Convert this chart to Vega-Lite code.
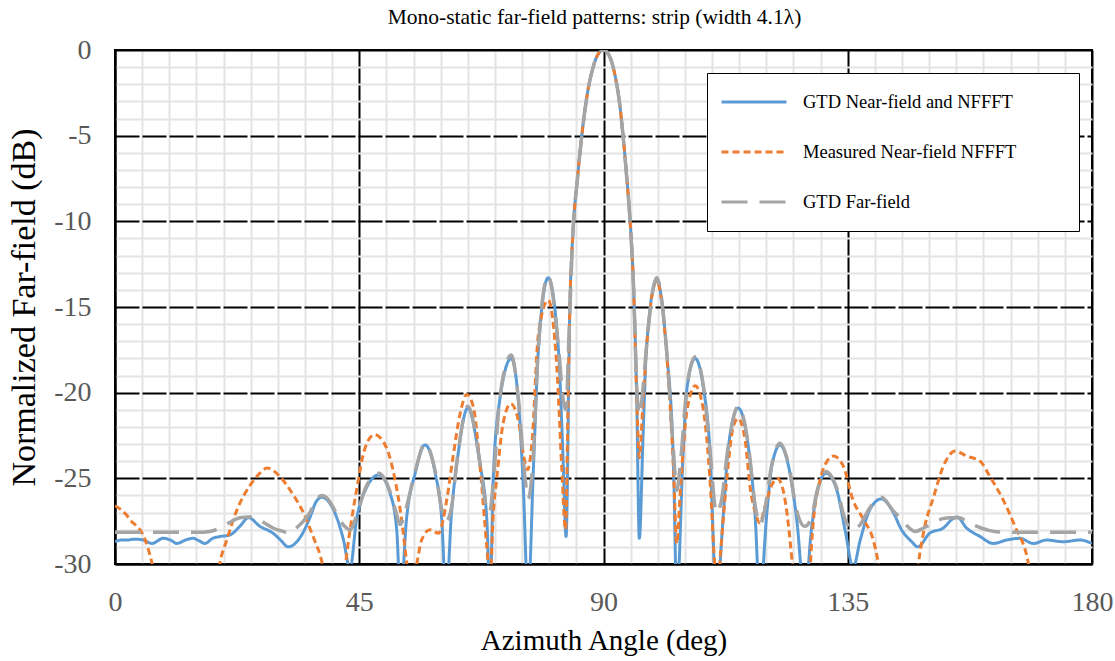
{
"$schema":"https://vega.github.io/schema/vega-lite/v6.json",
"width":977,"height":514,
"autosize":{"type":"none"},
"padding":{"left":115,"top":50,"right":23,"bottom":97},
"background":"white",
"title":{"text":"Mono-static far-field patterns: strip (width 4.1λ)","font":"Liberation Serif","fontSize":21.5,"fontWeight":"normal","color":"black","offset":8,"anchor":"middle","dx":-9},
"config":{"view":{"stroke":"black","strokeWidth":2}},
"data":{"values":[
{"series":"GTD Near-field and NFFFT","angle":0,"db":-28.7},{"series":"GTD Near-field and NFFFT","angle":1.2,"db":-28.6},{"series":"GTD Near-field and NFFFT","angle":2.2,"db":-28.6},{"series":"GTD Near-field and NFFFT","angle":3.6,"db":-28.55},{"series":"GTD Near-field and NFFFT","angle":5.2,"db":-28.6},{"series":"GTD Near-field and NFFFT","angle":6.8,"db":-28.8},{"series":"GTD Near-field and NFFFT","angle":8.9,"db":-28.5},{"series":"GTD Near-field and NFFFT","angle":10.2,"db":-28.6},{"series":"GTD Near-field and NFFFT","angle":11.4,"db":-28.8},{"series":"GTD Near-field and NFFFT","angle":13,"db":-28.6},{"series":"GTD Near-field and NFFFT","angle":14.4,"db":-28.5},{"series":"GTD Near-field and NFFFT","angle":15.5,"db":-28.65},{"series":"GTD Near-field and NFFFT","angle":16.6,"db":-28.8},{"series":"GTD Near-field and NFFFT","angle":18,"db":-28.5},{"series":"GTD Near-field and NFFFT","angle":19.3,"db":-28.4},{"series":"GTD Near-field and NFFFT","angle":21.2,"db":-28.3},{"series":"GTD Near-field and NFFFT","angle":23,"db":-27.8},{"series":"GTD Near-field and NFFFT","angle":24.6,"db":-27.3},{"series":"GTD Near-field and NFFFT","angle":26.7,"db":-27.8},{"series":"GTD Near-field and NFFFT","angle":29.1,"db":-28.2},{"series":"GTD Near-field and NFFFT","angle":30.5,"db":-28.6},{"series":"GTD Near-field and NFFFT","angle":31.9,"db":-29.0},{"series":"GTD Near-field and NFFFT","angle":33.2,"db":-28.8},{"series":"GTD Near-field and NFFFT","angle":34.4,"db":-28.3},{"series":"GTD Near-field and NFFFT","angle":35.9,"db":-27.3},{"series":"GTD Near-field and NFFFT","angle":37,"db":-26.4},{"series":"GTD Near-field and NFFFT","angle":38.1,"db":-26.1},{"series":"GTD Near-field and NFFFT","angle":39.2,"db":-26.3},{"series":"GTD Near-field and NFFFT","angle":40.2,"db":-26.8},{"series":"GTD Near-field and NFFFT","angle":41.2,"db":-27.6},{"series":"GTD Near-field and NFFFT","angle":42.1,"db":-28.6},{"series":"GTD Near-field and NFFFT","angle":43.3,"db":-30.3},{"series":"GTD Near-field and NFFFT","angle":44.5,"db":-27.4},{"series":"GTD Near-field and NFFFT","angle":46.1,"db":-25.7},{"series":"GTD Near-field and NFFFT","angle":48.6,"db":-24.8},{"series":"GTD Near-field and NFFFT","angle":50.7,"db":-25.9},{"series":"GTD Near-field and NFFFT","angle":51.9,"db":-28.0},{"series":"GTD Near-field and NFFFT","angle":52.6,"db":-32},{"series":"GTD Near-field and NFFFT","angle":53.7,"db":-27.4},{"series":"GTD Near-field and NFFFT","angle":55.3,"db":-24.7},{"series":"GTD Near-field and NFFFT","angle":57.1,"db":-23.05},{"series":"GTD Near-field and NFFFT","angle":59.0,"db":-24.7},{"series":"GTD Near-field and NFFFT","angle":60.2,"db":-27.4},{"series":"GTD Near-field and NFFFT","angle":61.0,"db":-32},{"series":"GTD Near-field and NFFFT","angle":62.0,"db":-27.0},{"series":"GTD Near-field and NFFFT","angle":63.0,"db":-24.1},{"series":"GTD Near-field and NFFFT","angle":65.0,"db":-20.9},{"series":"GTD Near-field and NFFFT","angle":67.2,"db":-24.1},{"series":"GTD Near-field and NFFFT","angle":68.5,"db":-27.4},{"series":"GTD Near-field and NFFFT","angle":69.1,"db":-32},{"series":"GTD Near-field and NFFFT","angle":69.7,"db":-24.9},{"series":"GTD Near-field and NFFFT","angle":70.9,"db":-20.4},{"series":"GTD Near-field and NFFFT","angle":73.0,"db":-18.0},{"series":"GTD Near-field and NFFFT","angle":74.3,"db":-20.4},{"series":"GTD Near-field and NFFFT","angle":75.2,"db":-25.3},{"series":"GTD Near-field and NFFFT","angle":76.1,"db":-32},{"series":"GTD Near-field and NFFFT","angle":77.1,"db":-24.3},{"series":"GTD Near-field and NFFFT","angle":78.0,"db":-17.5},{"series":"GTD Near-field and NFFFT","angle":79.8,"db":-13.3},{"series":"GTD Near-field and NFFFT","angle":81.7,"db":-17.5},{"series":"GTD Near-field and NFFFT","angle":82.6,"db":-24.3},{"series":"GTD Near-field and NFFFT","angle":83.1,"db":-28.4},{"series":"GTD Near-field and NFFFT","angle":83.8,"db":-15},{"series":"GTD Near-field and NFFFT","angle":84.4,"db":-10.5},{"series":"GTD Near-field and NFFFT","angle":85.2,"db":-7.5},{"series":"GTD Near-field and NFFFT","angle":86.0,"db":-5},{"series":"GTD Near-field and NFFFT","angle":87.0,"db":-2.6},{"series":"GTD Near-field and NFFFT","angle":88.0,"db":-1.1},{"series":"GTD Near-field and NFFFT","angle":89.0,"db":-0.25},{"series":"GTD Near-field and NFFFT","angle":90.0,"db":0},{"series":"GTD Near-field and NFFFT","angle":91.0,"db":-0.3},{"series":"GTD Near-field and NFFFT","angle":92.0,"db":-1.3},{"series":"GTD Near-field and NFFFT","angle":93.0,"db":-3.2},{"series":"GTD Near-field and NFFFT","angle":93.6,"db":-5},{"series":"GTD Near-field and NFFFT","angle":94.3,"db":-7.5},{"series":"GTD Near-field and NFFFT","angle":94.9,"db":-10},{"series":"GTD Near-field and NFFFT","angle":95.5,"db":-13.5},{"series":"GTD Near-field and NFFFT","angle":96.1,"db":-20},{"series":"GTD Near-field and NFFFT","angle":96.6,"db":-28.5},{"series":"GTD Near-field and NFFFT","angle":97.3,"db":-22.4},{"series":"GTD Near-field and NFFFT","angle":97.9,"db":-17.5},{"series":"GTD Near-field and NFFFT","angle":99.8,"db":-13.4},{"series":"GTD Near-field and NFFFT","angle":101.6,"db":-17.5},{"series":"GTD Near-field and NFFFT","angle":102.9,"db":-24.3},{"series":"GTD Near-field and NFFFT","angle":103.5,"db":-32},{"series":"GTD Near-field and NFFFT","angle":104.7,"db":-23.3},{"series":"GTD Near-field and NFFFT","angle":105.4,"db":-19.7},{"series":"GTD Near-field and NFFFT","angle":106.9,"db":-18.0},{"series":"GTD Near-field and NFFFT","angle":108.4,"db":-19.7},{"series":"GTD Near-field and NFFFT","angle":109.6,"db":-23.3},{"series":"GTD Near-field and NFFFT","angle":110.8,"db":-32},{"series":"GTD Near-field and NFFFT","angle":112.1,"db":-27.0},{"series":"GTD Near-field and NFFFT","angle":113.0,"db":-23.2},{"series":"GTD Near-field and NFFFT","angle":114.8,"db":-20.9},{"series":"GTD Near-field and NFFFT","angle":116.7,"db":-23.2},{"series":"GTD Near-field and NFFFT","angle":117.9,"db":-27.0},{"series":"GTD Near-field and NFFFT","angle":118.8,"db":-32},{"series":"GTD Near-field and NFFFT","angle":120.1,"db":-27.0},{"series":"GTD Near-field and NFFFT","angle":121.0,"db":-24.3},{"series":"GTD Near-field and NFFFT","angle":122.5,"db":-23.06},{"series":"GTD Near-field and NFFFT","angle":124.1,"db":-24.3},{"series":"GTD Near-field and NFFFT","angle":125.6,"db":-27.4},{"series":"GTD Near-field and NFFFT","angle":127.1,"db":-32},{"series":"GTD Near-field and NFFFT","angle":128.3,"db":-28.0},{"series":"GTD Near-field and NFFFT","angle":129.3,"db":-25.9},{"series":"GTD Near-field and NFFFT","angle":131.0,"db":-24.7},{"series":"GTD Near-field and NFFFT","angle":133.0,"db":-25.7},{"series":"GTD Near-field and NFFFT","angle":134.5,"db":-28.0},{"series":"GTD Near-field and NFFFT","angle":136.0,"db":-30.2},{"series":"GTD Near-field and NFFFT","angle":137.3,"db":-28.6},{"series":"GTD Near-field and NFFFT","angle":139.1,"db":-26.8},{"series":"GTD Near-field and NFFFT","angle":141.2,"db":-26.2},{"series":"GTD Near-field and NFFFT","angle":143.4,"db":-27.0},{"series":"GTD Near-field and NFFFT","angle":144.9,"db":-28.0},{"series":"GTD Near-field and NFFFT","angle":146.8,"db":-28.7},{"series":"GTD Near-field and NFFFT","angle":147.9,"db":-29.0},{"series":"GTD Near-field and NFFFT","angle":150.1,"db":-28.2},{"series":"GTD Near-field and NFFFT","angle":152.6,"db":-27.9},{"series":"GTD Near-field and NFFFT","angle":154.4,"db":-27.35},{"series":"GTD Near-field and NFFFT","angle":155.1,"db":-27.25},{"series":"GTD Near-field and NFFFT","angle":156.9,"db":-27.9},{"series":"GTD Near-field and NFFFT","angle":159.4,"db":-28.4},{"series":"GTD Near-field and NFFFT","angle":161.8,"db":-28.8},{"series":"GTD Near-field and NFFFT","angle":164.3,"db":-28.6},{"series":"GTD Near-field and NFFFT","angle":166.7,"db":-28.5},{"series":"GTD Near-field and NFFFT","angle":169.2,"db":-28.8},{"series":"GTD Near-field and NFFFT","angle":171.6,"db":-28.6},{"series":"GTD Near-field and NFFFT","angle":174.7,"db":-28.7},{"series":"GTD Near-field and NFFFT","angle":177.8,"db":-28.6},{"series":"GTD Near-field and NFFFT","angle":180,"db":-28.8},
{"series":"Measured Near-field NFFFT","angle":0,"db":-26.6},{"series":"Measured Near-field NFFFT","angle":1,"db":-26.8},{"series":"Measured Near-field NFFFT","angle":2,"db":-27.1},{"series":"Measured Near-field NFFFT","angle":3,"db":-27.5},{"series":"Measured Near-field NFFFT","angle":4,"db":-27.8},{"series":"Measured Near-field NFFFT","angle":5,"db":-28.2},{"series":"Measured Near-field NFFFT","angle":6,"db":-29.0},{"series":"Measured Near-field NFFFT","angle":7,"db":-30.2},{"series":"Measured Near-field NFFFT","angle":8,"db":-31.8},{"series":"Measured Near-field NFFFT","angle":18.5,"db":-31.8},{"series":"Measured Near-field NFFFT","angle":19.3,"db":-30.0},{"series":"Measured Near-field NFFFT","angle":20.6,"db":-28.6},{"series":"Measured Near-field NFFFT","angle":22.4,"db":-26.9},{"series":"Measured Near-field NFFFT","angle":24.9,"db":-25.4},{"series":"Measured Near-field NFFFT","angle":26.7,"db":-24.7},{"series":"Measured Near-field NFFFT","angle":28.0,"db":-24.4},{"series":"Measured Near-field NFFFT","angle":30.4,"db":-24.9},{"series":"Measured Near-field NFFFT","angle":32.5,"db":-25.8},{"series":"Measured Near-field NFFFT","angle":34.7,"db":-27.0},{"series":"Measured Near-field NFFFT","angle":36.5,"db":-28.4},{"series":"Measured Near-field NFFFT","angle":38.2,"db":-30.0},{"series":"Measured Near-field NFFFT","angle":39.2,"db":-31.8},{"series":"Measured Near-field NFFFT","angle":41.8,"db":-31.8},{"series":"Measured Near-field NFFFT","angle":42.7,"db":-29.4},{"series":"Measured Near-field NFFFT","angle":44.5,"db":-25.7},{"series":"Measured Near-field NFFFT","angle":46.1,"db":-23.2},{"series":"Measured Near-field NFFFT","angle":47.8,"db":-22.45},{"series":"Measured Near-field NFFFT","angle":50.0,"db":-23.2},{"series":"Measured Near-field NFFFT","angle":51.6,"db":-25.1},{"series":"Measured Near-field NFFFT","angle":52.8,"db":-27.4},{"series":"Measured Near-field NFFFT","angle":53.7,"db":-29.8},{"series":"Measured Near-field NFFFT","angle":54.6,"db":-31.8},{"series":"Measured Near-field NFFFT","angle":55.6,"db":-30.0},{"series":"Measured Near-field NFFFT","angle":56.5,"db":-28.6},{"series":"Measured Near-field NFFFT","angle":58.0,"db":-28.0},{"series":"Measured Near-field NFFFT","angle":59.6,"db":-28.2},{"series":"Measured Near-field NFFFT","angle":61.1,"db":-26.3},{"series":"Measured Near-field NFFFT","angle":62.3,"db":-23.7},{"series":"Measured Near-field NFFFT","angle":63.6,"db":-21.2},{"series":"Measured Near-field NFFFT","angle":64.8,"db":-20.1},{"series":"Measured Near-field NFFFT","angle":66.0,"db":-20.8},{"series":"Measured Near-field NFFFT","angle":67.2,"db":-24.1},{"series":"Measured Near-field NFFFT","angle":68.5,"db":-29.0},{"series":"Measured Near-field NFFFT","angle":69.1,"db":-31},{"series":"Measured Near-field NFFFT","angle":69.7,"db":-27.0},{"series":"Measured Near-field NFFFT","angle":70.3,"db":-25.1},{"series":"Measured Near-field NFFFT","angle":71.5,"db":-21.8},{"series":"Measured Near-field NFFFT","angle":72.9,"db":-20.65},{"series":"Measured Near-field NFFFT","angle":74.3,"db":-21.6},{"series":"Measured Near-field NFFFT","angle":75.3,"db":-23.7},{"series":"Measured Near-field NFFFT","angle":76.0,"db":-24.5},{"series":"Measured Near-field NFFFT","angle":76.8,"db":-23.0},{"series":"Measured Near-field NFFFT","angle":78.0,"db":-16.6},{"series":"Measured Near-field NFFFT","angle":79.8,"db":-14.6},{"series":"Measured Near-field NFFFT","angle":81.4,"db":-18.5},{"series":"Measured Near-field NFFFT","angle":82.3,"db":-24.3},{"series":"Measured Near-field NFFFT","angle":83.0,"db":-28.0},{"series":"Measured Near-field NFFFT","angle":83.5,"db":-20},{"series":"Measured Near-field NFFFT","angle":83.8,"db":-15},{"series":"Measured Near-field NFFFT","angle":84.4,"db":-10.5},{"series":"Measured Near-field NFFFT","angle":85.2,"db":-7.5},{"series":"Measured Near-field NFFFT","angle":86.0,"db":-5},{"series":"Measured Near-field NFFFT","angle":87.0,"db":-2.6},{"series":"Measured Near-field NFFFT","angle":88.0,"db":-1.1},{"series":"Measured Near-field NFFFT","angle":89.0,"db":-0.25},{"series":"Measured Near-field NFFFT","angle":90.0,"db":0},{"series":"Measured Near-field NFFFT","angle":91.0,"db":-0.3},{"series":"Measured Near-field NFFFT","angle":92.0,"db":-1.3},{"series":"Measured Near-field NFFFT","angle":93.0,"db":-3.2},{"series":"Measured Near-field NFFFT","angle":93.6,"db":-5},{"series":"Measured Near-field NFFFT","angle":94.3,"db":-7.5},{"series":"Measured Near-field NFFFT","angle":94.9,"db":-10},{"series":"Measured Near-field NFFFT","angle":95.5,"db":-13.5},{"series":"Measured Near-field NFFFT","angle":96.1,"db":-20},{"series":"Measured Near-field NFFFT","angle":96.6,"db":-23.8},{"series":"Measured Near-field NFFFT","angle":97.2,"db":-21},{"series":"Measured Near-field NFFFT","angle":97.9,"db":-17.5},{"series":"Measured Near-field NFFFT","angle":99.8,"db":-13.5},{"series":"Measured Near-field NFFFT","angle":101.6,"db":-17.6},{"series":"Measured Near-field NFFFT","angle":102.9,"db":-24.5},{"series":"Measured Near-field NFFFT","angle":103.5,"db":-28.8},{"series":"Measured Near-field NFFFT","angle":104.2,"db":-25.5},{"series":"Measured Near-field NFFFT","angle":105.4,"db":-21.0},{"series":"Measured Near-field NFFFT","angle":106.9,"db":-19.6},{"series":"Measured Near-field NFFFT","angle":108.4,"db":-21.0},{"series":"Measured Near-field NFFFT","angle":109.6,"db":-25.0},{"series":"Measured Near-field NFFFT","angle":110.6,"db":-30.5},{"series":"Measured Near-field NFFFT","angle":111.0,"db":-31.5},{"series":"Measured Near-field NFFFT","angle":111.5,"db":-29.6},{"series":"Measured Near-field NFFFT","angle":112.7,"db":-25.1},{"series":"Measured Near-field NFFFT","angle":113.9,"db":-22.0},{"series":"Measured Near-field NFFFT","angle":114.8,"db":-21.5},{"series":"Measured Near-field NFFFT","angle":116.1,"db":-22.8},{"series":"Measured Near-field NFFFT","angle":117.0,"db":-25.5},{"series":"Measured Near-field NFFFT","angle":118.0,"db":-27.0},{"series":"Measured Near-field NFFFT","angle":118.8,"db":-27.6},{"series":"Measured Near-field NFFFT","angle":119.7,"db":-26.7},{"series":"Measured Near-field NFFFT","angle":121.0,"db":-25.4},{"series":"Measured Near-field NFFFT","angle":122.0,"db":-25.0},{"series":"Measured Near-field NFFFT","angle":123.1,"db":-25.7},{"series":"Measured Near-field NFFFT","angle":124.1,"db":-27.8},{"series":"Measured Near-field NFFFT","angle":124.8,"db":-30.0},{"series":"Measured Near-field NFFFT","angle":125.5,"db":-31.8},{"series":"Measured Near-field NFFFT","angle":127.8,"db":-31.8},{"series":"Measured Near-field NFFFT","angle":128.3,"db":-29.0},{"series":"Measured Near-field NFFFT","angle":128.7,"db":-27.4},{"series":"Measured Near-field NFFFT","angle":129.9,"db":-25.1},{"series":"Measured Near-field NFFFT","angle":131.0,"db":-24.1},{"series":"Measured Near-field NFFFT","angle":132.4,"db":-23.7},{"series":"Measured Near-field NFFFT","angle":134.2,"db":-24.3},{"series":"Measured Near-field NFFFT","angle":136.0,"db":-26.3},{"series":"Measured Near-field NFFFT","angle":137.9,"db":-27.4},{"series":"Measured Near-field NFFFT","angle":139.7,"db":-28.6},{"series":"Measured Near-field NFFFT","angle":140.6,"db":-29.9},{"series":"Measured Near-field NFFFT","angle":141.4,"db":-31.8},{"series":"Measured Near-field NFFFT","angle":147.3,"db":-31.8},{"series":"Measured Near-field NFFFT","angle":148.0,"db":-30.0},{"series":"Measured Near-field NFFFT","angle":149.2,"db":-27.8},{"series":"Measured Near-field NFFFT","angle":150.8,"db":-26.1},{"series":"Measured Near-field NFFFT","angle":152.6,"db":-24.3},{"series":"Measured Near-field NFFFT","angle":154.8,"db":-23.4},{"series":"Measured Near-field NFFFT","angle":156.9,"db":-23.7},{"series":"Measured Near-field NFFFT","angle":159.4,"db":-24.0},{"series":"Measured Near-field NFFFT","angle":161.2,"db":-24.9},{"series":"Measured Near-field NFFFT","angle":163.7,"db":-26.3},{"series":"Measured Near-field NFFFT","angle":165.8,"db":-27.8},{"series":"Measured Near-field NFFFT","angle":168.3,"db":-30.0},{"series":"Measured Near-field NFFFT","angle":169.2,"db":-31.8},
{"series":"GTD Far-field","angle":0,"db":-28.15},{"series":"GTD Far-field","angle":5,"db":-28.15},{"series":"GTD Far-field","angle":10,"db":-28.15},{"series":"GTD Far-field","angle":15,"db":-28.15},{"series":"GTD Far-field","angle":17.5,"db":-28.1},{"series":"GTD Far-field","angle":19.3,"db":-27.9},{"series":"GTD Far-field","angle":21,"db":-27.6},{"series":"GTD Far-field","angle":23,"db":-27.3},{"series":"GTD Far-field","angle":24.6,"db":-27.25},{"series":"GTD Far-field","angle":26,"db":-27.3},{"series":"GTD Far-field","angle":27.5,"db":-27.6},{"series":"GTD Far-field","angle":29.1,"db":-27.9},{"series":"GTD Far-field","angle":31,"db":-28.1},{"series":"GTD Far-field","angle":32,"db":-28.2},{"series":"GTD Far-field","angle":33,"db":-28.0},{"series":"GTD Far-field","angle":34.4,"db":-27.6},{"series":"GTD Far-field","angle":35.9,"db":-27.0},{"series":"GTD Far-field","angle":37,"db":-26.3},{"series":"GTD Far-field","angle":38.1,"db":-26.0},{"series":"GTD Far-field","angle":39.2,"db":-26.2},{"series":"GTD Far-field","angle":40.2,"db":-26.7},{"series":"GTD Far-field","angle":41.2,"db":-27.3},{"series":"GTD Far-field","angle":42.3,"db":-27.8},{"series":"GTD Far-field","angle":43.3,"db":-28.0},{"series":"GTD Far-field","angle":44.5,"db":-27.2},{"series":"GTD Far-field","angle":46.1,"db":-25.6},{"series":"GTD Far-field","angle":48.6,"db":-24.7},{"series":"GTD Far-field","angle":50.7,"db":-25.8},{"series":"GTD Far-field","angle":51.8,"db":-27.0},{"series":"GTD Far-field","angle":52.5,"db":-27.7},{"series":"GTD Far-field","angle":53.4,"db":-27.0},{"series":"GTD Far-field","angle":55.3,"db":-24.6},{"series":"GTD Far-field","angle":57.1,"db":-22.95},{"series":"GTD Far-field","angle":59.0,"db":-24.6},{"series":"GTD Far-field","angle":60.2,"db":-26.8},{"series":"GTD Far-field","angle":61.0,"db":-27.5},{"series":"GTD Far-field","angle":62.0,"db":-26.7},{"series":"GTD Far-field","angle":63.0,"db":-24.0},{"series":"GTD Far-field","angle":65.0,"db":-20.8},{"series":"GTD Far-field","angle":67.2,"db":-24.0},{"series":"GTD Far-field","angle":68.3,"db":-26.5},{"series":"GTD Far-field","angle":69.0,"db":-27.0},{"series":"GTD Far-field","angle":69.8,"db":-24.8},{"series":"GTD Far-field","angle":70.9,"db":-20.3},{"series":"GTD Far-field","angle":73.0,"db":-17.8},{"series":"GTD Far-field","angle":74.3,"db":-20.3},{"series":"GTD Far-field","angle":75.4,"db":-24.5},{"series":"GTD Far-field","angle":76.1,"db":-26.2},{"series":"GTD Far-field","angle":77.0,"db":-24.0},{"series":"GTD Far-field","angle":78.0,"db":-17.3},{"series":"GTD Far-field","angle":79.8,"db":-13.2},{"series":"GTD Far-field","angle":81.7,"db":-17.3},{"series":"GTD Far-field","angle":82.6,"db":-20.5},{"series":"GTD Far-field","angle":83.1,"db":-21.0},{"series":"GTD Far-field","angle":83.6,"db":-17},{"series":"GTD Far-field","angle":84.4,"db":-10.5},{"series":"GTD Far-field","angle":85.2,"db":-7.5},{"series":"GTD Far-field","angle":86.0,"db":-5},{"series":"GTD Far-field","angle":87.0,"db":-2.6},{"series":"GTD Far-field","angle":88.0,"db":-1.1},{"series":"GTD Far-field","angle":89.0,"db":-0.25},{"series":"GTD Far-field","angle":90.0,"db":0},{"series":"GTD Far-field","angle":91.0,"db":-0.3},{"series":"GTD Far-field","angle":92.0,"db":-1.3},{"series":"GTD Far-field","angle":93.0,"db":-3.2},{"series":"GTD Far-field","angle":93.6,"db":-5},{"series":"GTD Far-field","angle":94.3,"db":-7.5},{"series":"GTD Far-field","angle":94.9,"db":-10},{"series":"GTD Far-field","angle":95.5,"db":-13.5},{"series":"GTD Far-field","angle":96.1,"db":-19.5},{"series":"GTD Far-field","angle":96.6,"db":-21.3},{"series":"GTD Far-field","angle":97.2,"db":-20},{"series":"GTD Far-field","angle":97.9,"db":-17.4},{"series":"GTD Far-field","angle":99.8,"db":-13.3},{"series":"GTD Far-field","angle":101.6,"db":-17.4},{"series":"GTD Far-field","angle":102.9,"db":-23.5},{"series":"GTD Far-field","angle":103.5,"db":-25.7},{"series":"GTD Far-field","angle":104.2,"db":-24.0},{"series":"GTD Far-field","angle":105.4,"db":-19.6},{"series":"GTD Far-field","angle":106.9,"db":-17.9},{"series":"GTD Far-field","angle":108.4,"db":-19.6},{"series":"GTD Far-field","angle":109.6,"db":-23.3},{"series":"GTD Far-field","angle":110.8,"db":-27.0},{"series":"GTD Far-field","angle":111.6,"db":-26.5},{"series":"GTD Far-field","angle":113.0,"db":-23.1},{"series":"GTD Far-field","angle":114.8,"db":-20.8},{"series":"GTD Far-field","angle":116.7,"db":-23.1},{"series":"GTD Far-field","angle":117.9,"db":-26.5},{"series":"GTD Far-field","angle":118.8,"db":-27.7},{"series":"GTD Far-field","angle":119.6,"db":-27.0},{"series":"GTD Far-field","angle":121.0,"db":-24.2},{"series":"GTD Far-field","angle":122.5,"db":-22.95},{"series":"GTD Far-field","angle":124.1,"db":-24.2},{"series":"GTD Far-field","angle":125.6,"db":-26.9},{"series":"GTD Far-field","angle":127.1,"db":-27.8},{"series":"GTD Far-field","angle":128.3,"db":-27.3},{"series":"GTD Far-field","angle":129.3,"db":-25.8},{"series":"GTD Far-field","angle":131.0,"db":-24.6},{"series":"GTD Far-field","angle":133.0,"db":-25.6},{"series":"GTD Far-field","angle":134.5,"db":-27.4},{"series":"GTD Far-field","angle":136.0,"db":-28.0},{"series":"GTD Far-field","angle":137.3,"db":-27.7},{"series":"GTD Far-field","angle":139.1,"db":-26.7},{"series":"GTD Far-field","angle":141.2,"db":-26.1},{"series":"GTD Far-field","angle":143.4,"db":-26.9},{"series":"GTD Far-field","angle":144.6,"db":-27.3},{"series":"GTD Far-field","angle":146.0,"db":-27.8},{"series":"GTD Far-field","angle":147.4,"db":-28.1},{"series":"GTD Far-field","angle":149.0,"db":-27.9},{"series":"GTD Far-field","angle":150.7,"db":-27.6},{"series":"GTD Far-field","angle":152.5,"db":-27.35},{"series":"GTD Far-field","angle":154.0,"db":-27.3},{"series":"GTD Far-field","angle":155.5,"db":-27.3},{"series":"GTD Far-field","angle":156.9,"db":-27.5},{"series":"GTD Far-field","angle":158.8,"db":-27.8},{"series":"GTD Far-field","angle":160.6,"db":-28.0},{"series":"GTD Far-field","angle":162.0,"db":-28.1},{"series":"GTD Far-field","angle":165,"db":-28.15},{"series":"GTD Far-field","angle":170,"db":-28.15},{"series":"GTD Far-field","angle":175,"db":-28.15},{"series":"GTD Far-field","angle":180,"db":-28.15}
]},
"encoding":{
 "x":{"field":"angle","type":"quantitative","scale":{"domain":[0,180],"nice":false,"zero":false},
  "axis":{"title":"Azimuth Angle (deg)","values":[0,5,10,15,20,25,30,35,40,45,50,55,60,65,70,75,80,85,90,95,100,105,110,115,120,125,130,135,140,145,150,155,160,165,170,175,180],
   "labelExpr":"datum.value % 45 === 0 ? '' + datum.value : ''","ticks":false,"domain":true,"domainColor":"black","domainWidth":2,
   "grid":true,"gridColor":{"condition":{"test":"datum.value % 45 === 0","value":"black"},"value":"#E4E4E4"},
   "gridWidth":2,
   "labelFont":"Liberation Serif","labelFontSize":28,"labelColor":"#595959","labelPadding":24,"labelOverlap":false,"labelFlush":false,
   "titleFont":"Liberation Serif","titleFontSize":29,"titleFontWeight":"normal","titleColor":"black","titlePadding":10}},
 "y":{"field":"db","type":"quantitative","scale":{"domain":[-30,0],"nice":false,"zero":false},
  "axis":{"title":"Normalized Far-field (dB)","values":[-30,-29,-28,-27,-26,-25,-24,-23,-22,-21,-20,-19,-18,-17,-16,-15,-14,-13,-12,-11,-10,-9,-8,-7,-6,-5,-4,-3,-2,-1,0],
   "labelExpr":"datum.value % 5 === 0 ? '' + datum.value : ''","ticks":false,"domain":true,"domainColor":"black","domainWidth":2,
   "grid":true,"gridColor":{"condition":{"test":"datum.value % 5 === 0","value":"black"},"value":"#E4E4E4"},
   "gridDash":{"condition":{"test":"datum.value % 5 === 0 && datum.value > -30 && datum.value < 0","value":[24,3]},"value":[]},
   "gridWidth":2,
   "labelFont":"Liberation Serif","labelFontSize":28,"labelColor":"#595959","labelPadding":24,"labelOverlap":false,"labelFlush":false,
   "titleFont":"Liberation Serif","titleFontSize":34,"titleFontWeight":"normal","titleColor":"black","titlePadding":12}},
 "color":{"field":"series","type":"nominal","scale":{"domain":["GTD Near-field and NFFFT","Measured Near-field NFFFT","GTD Far-field"],"range":["#5B9BD5","#ED7D31","#A5A5A5"]},
  "legend":{"title":" ","titleOrient":"right","titlePadding":44,"orient":"none","legendX":592,"legendY":23,"padding":19,"rowPadding":30,"labelFont":"Liberation Serif","labelFontSize":18.5,"labelColor":"black","labelOffset":39,"symbolOffset":18,"labelLimit":400,"symbolType":"M-4,0H4","symbolSize":264,"symbolStrokeWidth":3,"strokeColor":"black","fillColor":"white"}},
 "strokeDash":{"field":"series","type":"nominal","scale":{"domain":["GTD Near-field and NFFFT","Measured Near-field NFFFT","GTD Far-field"],"range":[[1,0],[7,4],[26,12]]},
  "legend":{"title":" ","titleOrient":"right","titlePadding":44,"orient":"none","legendX":592,"legendY":23,"padding":19,"rowPadding":30,"labelFont":"Liberation Serif","labelFontSize":18.5,"labelColor":"black","labelOffset":39,"symbolOffset":18,"labelLimit":400,"symbolType":"M-4,0H4","symbolSize":264,"symbolStrokeWidth":3,"strokeColor":"black","fillColor":"white"}}
},
"layer":[
 {"transform":[{"filter":"datum.series === 'GTD Near-field and NFFFT'"}],"mark":{"type":"line","interpolate":"monotone","clip":true,"strokeWidth":3}},
 {"transform":[{"filter":"datum.series === 'Measured Near-field NFFFT'"}],"mark":{"type":"line","interpolate":"monotone","clip":true,"strokeWidth":3}},
 {"transform":[{"filter":"datum.series === 'GTD Far-field'"}],"mark":{"type":"line","interpolate":"monotone","clip":true,"strokeWidth":3.5}}
]
}
